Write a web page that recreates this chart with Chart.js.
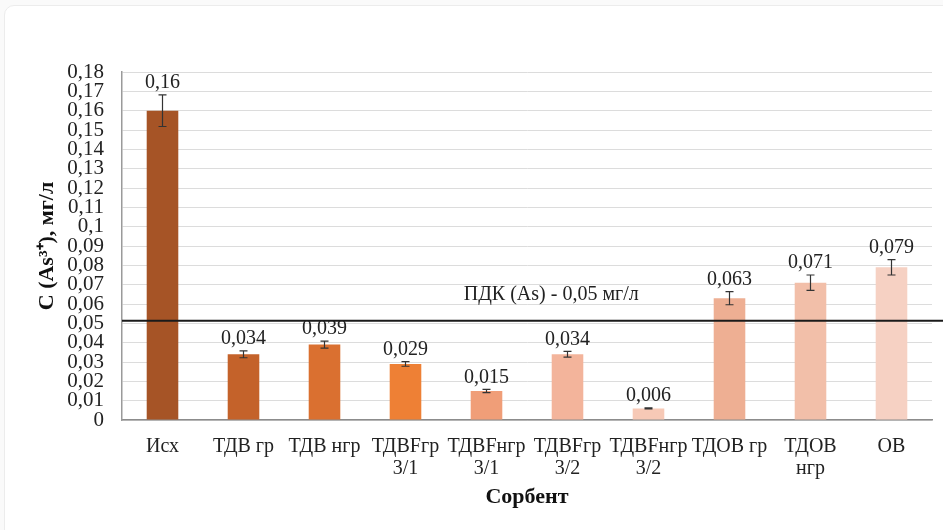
<!DOCTYPE html>
<html>
<head>
<meta charset="utf-8">
<script src="https://cdn.jsdelivr.net/npm/chart.js@4/dist/chart.umd.min.js"></script>
<style>
  html, body { margin: 0; padding: 0; background: #fafafa; }
  .card {
    position: absolute; left: 4px; top: 5px; width: 960px; height: 540px;
    background: #fff; border: 1px solid #ececec; border-radius: 10px;
  }
  #wrap { position: absolute; left: 0; top: 0; width: 943px; height: 530px; }
</style>
</head>
<body>
<div class="card"></div>
<div id="wrap"><canvas id="myChart" width="943" height="530"></canvas></div>
<script>
var categories = [
    'Исх', 'ТДВ гр', 'ТДВ нгр', ['ТДВFгр', '3/1'], ['ТДВFнгр', '3/1'],
    ['ТДВFгр', '3/2'], ['ТДВFнгр', '3/2'], 'ТДОВ гр', ['ТДОВ', 'нгр'], 'ОВ'
];
var values = [0.16, 0.034, 0.039, 0.029, 0.015, 0.034, 0.006, 0.063, 0.071, 0.079];
var valueLabels = ['0,16', '0,034', '0,039', '0,029', '0,015', '0,034', '0,006', '0,063', '0,071', '0,079'];
var errors = [0.0082, 0.0018, 0.0018, 0.0012, 0.0008, 0.0015, 0.0003, 0.0034, 0.004, 0.004];
var barColors = ['#A65426', '#C4622A', '#DA7030', '#EE8035', '#F09E78',
                 '#F3B49B', '#F7C9B6', '#EEAF93', '#F2BFA9', '#F6D1C3'];
var pdkLevel = 0.0513;
var pdkText = 'ПДК (As) - 0,05 мг/л';

var serif = '"Liberation Serif", "Times New Roman", serif';

// error bars, value labels and the ПДК line
var extras = {
    id: 'extras',
    afterDatasetsDraw: function(chart) {
        var ctx = chart.ctx;
        var xs = chart.scales.x, ys = chart.scales.y;
        ctx.save();
        ctx.strokeStyle = '#333';
        ctx.lineWidth = 1.2;
        values.forEach(function(v, i) {
            var x = xs.getPixelForValue(i);
            var top = ys.getPixelForValue(v + errors[i]);
            var bot = ys.getPixelForValue(v - errors[i]);
            ctx.beginPath();
            ctx.moveTo(x, top); ctx.lineTo(x, bot);
            ctx.moveTo(x - 4, top); ctx.lineTo(x + 4, top);
            ctx.moveTo(x - 4, bot); ctx.lineTo(x + 4, bot);
            ctx.stroke();
            ctx.fillStyle = '#222';
            ctx.font = '20px ' + serif;
            ctx.textAlign = 'center';
            ctx.textBaseline = 'bottom';
            ctx.fillText(valueLabels[i], x, top - 2);
        });
        // ПДК line
        var y = ys.getPixelForValue(pdkLevel);
        ctx.strokeStyle = '#1a1a1a';
        ctx.lineWidth = 2;
        ctx.beginPath();
        ctx.moveTo(chart.chartArea.left, y);
        ctx.lineTo(chart.width, y);
        ctx.stroke();
        ctx.fillStyle = '#222';
        ctx.font = '20px ' + serif;
        ctx.textAlign = 'center';
        ctx.textBaseline = 'middle';
        ctx.fillText(pdkText, xs.getPixelForValue(4.8), y - 26);
        ctx.restore();
    }
};

var config = {
    type: 'bar',
    data: {
        labels: categories,
        datasets: [{
            data: values,
            backgroundColor: barColors,
            borderWidth: 0,
            barPercentage: 0.39,
            categoryPercentage: 1
        }]
    },
    options: {
        responsive: false,
        animation: false,
        events: [],
        layout: { padding: { left: 34, top: 72, right: 11, bottom: 19 } },
        plugins: {
            legend: { display: false },
            tooltip: { enabled: false }
        },
        scales: {
            x: {
                grid: { display: false, drawTicks: false },
                border: { color: '#8c8c8c', width: 1.5 },
                ticks: {
                    color: '#222',
                    font: { family: serif, size: 20, lineHeight: 1.1 },
                    padding: 16,
                    maxRotation: 0,
                    autoSkip: false
                },
                title: {
                    display: true,
                    text: 'Сорбент',
                    color: '#111',
                    font: { family: serif, size: 22, weight: 'bold' },
                    padding: { top: 2, bottom: 0 }
                },
                afterFit: function(s) { s.height = 530 - 420 - 19; }
            },
            y: {
                min: 0,
                max: 0.18,
                grid: { color: '#dcdcdc', drawTicks: false },
                border: { color: '#9a9a9a', width: 1.5 },
                ticks: {
                    stepSize: 0.01,
                    autoSkip: false,
                    color: '#222',
                    font: { family: serif, size: 21, lineHeight: 0.9 },
                    padding: 18,
                    callback: function(v) {
                        return String(Math.round(v * 100) / 100).replace('.', ',');
                    }
                },
                title: {
                    display: true,
                    text: 'C (As³⁺), мг/л',
                    color: '#111',
                    font: { family: serif, size: 22, weight: 'bold' },
                    padding: { top: 0, bottom: 4 }
                },
                afterFit: function(s) { s.width = 122 - 34; }
            }
        }
    },
    plugins: [extras]
};

window.addEventListener('DOMContentLoaded', (event) => {
    var ctx = document.getElementById('myChart').getContext('2d');
    window.myBar = new Chart(ctx, config);
});
</script>
</body>
</html>
